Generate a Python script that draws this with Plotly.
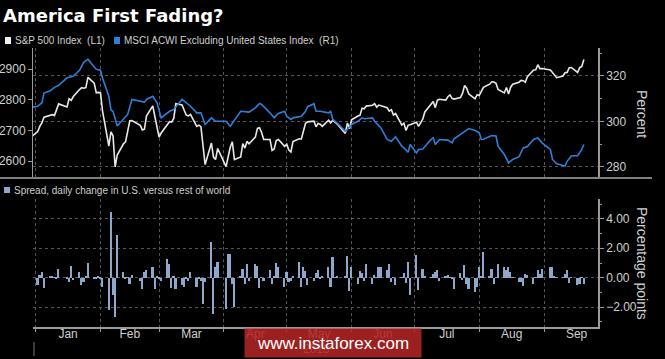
import pandas as pd
import plotly.graph_objects as go

W, H = 665, 359
def px(x): return x / W
def py(y): return 1 - y / H

# ---------------- data ----------------
holidays = ["2018-01-15", "2018-02-19", "2018-03-30", "2018-05-28", "2018-07-04", "2018-09-03"]
trade_dates = ["2017-12-29"] + [d.strftime("%Y-%m-%d") for d in pd.bdate_range("2018-01-02", "2018-09-20")
                                 if d.strftime("%Y-%m-%d") not in holidays]

spx = [2673.61,
       # Jan
       2695.81, 2713.06, 2723.99, 2743.15, 2747.71, 2751.29, 2748.23, 2767.56, 2786.24, 2776.42, 2802.56,
       2798.03, 2810.30, 2832.97, 2839.13, 2837.54, 2839.25, 2872.87, 2853.53, 2822.43, 2823.81,
       # Feb
       2821.98, 2762.13, 2648.94, 2695.14, 2681.66, 2581.00, 2619.55, 2656.00, 2662.94, 2698.63, 2731.20,
       2732.22, 2716.26, 2701.33, 2703.96, 2747.30, 2779.60, 2744.28, 2713.83,
       # Mar
       2677.67, 2691.25, 2720.94, 2728.12, 2726.80, 2738.97, 2786.57, 2783.02, 2765.31, 2749.48, 2747.33,
       2752.01, 2712.92, 2716.94, 2711.93, 2643.69, 2588.26, 2658.55, 2612.62, 2605.00, 2640.87,
       # Apr
       2581.88, 2614.45, 2644.69, 2662.84, 2604.47, 2613.16, 2656.87, 2642.19, 2663.99, 2656.30, 2677.84,
       2706.39, 2708.64, 2693.13, 2670.14, 2670.29, 2634.56, 2639.40, 2666.94, 2669.91, 2648.05,
       # May
       2654.80, 2635.67, 2629.73, 2663.42, 2672.63, 2671.92, 2697.79, 2723.07, 2727.72, 2730.13, 2711.45,
       2722.46, 2720.13, 2712.97, 2733.01, 2724.44, 2733.29, 2727.76, 2721.33, 2689.86, 2724.01, 2705.27,
       # Jun
       2734.62, 2746.87, 2748.80, 2772.35, 2770.37, 2779.03, 2782.00, 2786.85, 2775.63, 2782.49, 2779.66,
       2773.75, 2762.59, 2767.32, 2749.76, 2754.88, 2717.07, 2723.06, 2699.63, 2716.31, 2718.37,
       # Jul
       2726.71, 2713.22, 2736.61, 2759.82, 2784.17, 2793.84, 2774.02, 2798.29, 2801.31, 2798.43, 2809.55,
       2815.62, 2804.49, 2801.83, 2806.98, 2820.40, 2846.07, 2837.44, 2818.82, 2802.60, 2816.29,
       # Aug
       2813.36, 2827.22, 2840.35, 2850.40, 2858.45, 2857.70, 2853.58, 2833.28, 2821.93, 2839.96, 2818.37,
       2840.69, 2850.13, 2857.05, 2862.96, 2861.82, 2856.98, 2874.69, 2896.74, 2897.52, 2914.04, 2901.13,
       2901.52,
       # Sep
       2896.72, 2888.60, 2878.05, 2871.68, 2877.13, 2887.89, 2888.92, 2904.18, 2904.98, 2888.80, 2904.31,
       2907.95, 2930.75]

spread = [-0.9,
          # Jan
          -0.5, 0.2, 0.4, -0.7, 0.1, 0.1, 0.03, -0.1, 0.6, -0.1, -0.3, 0.8, -0.15, 0.4, -0.5, -0.3, 0.05, 1.0,
          -0.1, -0.1, 0.05,
          # Feb
          -0.1, -0.6, -2.2, 4.5, -1.2, -2.7, 2.9, 0.4, -0.1, 0.03, -0.4, 0.2, -0.2, -0.8, 0.4, 0.5, 0.7, -0.8, 0.05,
          # Mar
          -0.1, -0.2, 1.3, 0.9, -0.7, 0.1, -0.8, -0.5, -0.6, -0.1, -0.2, 0.4, -0.6, -0.1, -0.2, -1.8, -0.3, 2.4,
          -2.5, 0.7, 1.1,
          # Apr
          -2.1, 1.6, 1.6, -0.4, -2.0, 0.1, 0.6, -0.4, 0.9, -0.2, 0.9, 0.8, -0.7, 0.03, -0.2, 0.5, -0.4, 0.1, 1.0,
          0.7, -0.6,
          # May
          0.4, -0.3, -0.2, 0.05, 1.1, -0.6, 0.7, 0.45, -0.5, -0.2, 0.3, 0.5, -0.05, 0.15, 0.7, -0.6, 1.4, 0.03,
          0.1, 0.05, 1.5, -0.9,
          # Jun
          0.7, -0.45, 0.45, 0.3, -0.2, 0.95, -0.4, 0.2, 0.03, 0.7, 0.75, 0.5, 0.9, -0.3, 0.03, -0.5, 0.03, 0.3,
          -0.35, 1.1, -1.2,
          # Jul
          1.55, -0.85, 0.6, 0.15, 0.03, 0.25, 0.4, 0.5, -0.2, 0.1, 0.2, 0.03, -0.05, -0.75, 0.3, -0.15, 0.85,
          -0.4, -0.75, -0.95, -0.6,
          # Aug
          0.7, 0.1, 1.75, 0.15, 0.6, -0.4, 0.03, 0.95, 0.7, 0.55, 0.7, 0.4, 0.03, -0.3, -0.3, -0.55, 0.25, 0.2,
          -0.4, 0.03, 0.55, 0.25, 0.6,
          # Sep
          0.7, 0.7, 0.1, 0.03, 0.03, 0.25, 0.55, -0.35, 0.03, -0.5, -0.45, 0.03, -0.45]

msci_dates = ["2017-12-29", "2018-01-02", "2018-01-04", "2018-01-05", "2018-01-08", "2018-01-10", "2018-01-12",
              "2018-01-16", "2018-01-19", "2018-01-22", "2018-01-24", "2018-01-26", "2018-01-30", "2018-02-01",
              "2018-02-02", "2018-02-05", "2018-02-06", "2018-02-07", "2018-02-09", "2018-02-12", "2018-02-14",
              "2018-02-16", "2018-02-20", "2018-02-22", "2018-02-23", "2018-02-26", "2018-02-28", "2018-03-01",
              "2018-03-02", "2018-03-06", "2018-03-08", "2018-03-12", "2018-03-14", "2018-03-16", "2018-03-19",
              "2018-03-21", "2018-03-23", "2018-03-26", "2018-03-28", "2018-04-02", "2018-04-04", "2018-04-06",
              "2018-04-09", "2018-04-13", "2018-04-16", "2018-04-18", "2018-04-19", "2018-04-23", "2018-04-25",
              "2018-04-27", "2018-04-30", "2018-05-01", "2018-05-03", "2018-05-04", "2018-05-08", "2018-05-10",
              "2018-05-11", "2018-05-14", "2018-05-15", "2018-05-17", "2018-05-21", "2018-05-22", "2018-05-23",
              "2018-05-25", "2018-05-29", "2018-05-30", "2018-06-01", "2018-06-04", "2018-06-06", "2018-06-07",
              "2018-06-11", "2018-06-12", "2018-06-15", "2018-06-18", "2018-06-20", "2018-06-22", "2018-06-25",
              "2018-06-26", "2018-06-28", "2018-06-29", "2018-07-02", "2018-07-03", "2018-07-05", "2018-07-09",
              "2018-07-10", "2018-07-11", "2018-07-13", "2018-07-17", "2018-07-19", "2018-07-20", "2018-07-23",
              "2018-07-25", "2018-07-27", "2018-07-30", "2018-08-01", "2018-08-02", "2018-08-03", "2018-08-07",
              "2018-08-09", "2018-08-10", "2018-08-13", "2018-08-15", "2018-08-17", "2018-08-20", "2018-08-22",
              "2018-08-24", "2018-08-27", "2018-08-29", "2018-08-31", "2018-09-04", "2018-09-05", "2018-09-07",
              "2018-09-11", "2018-09-12", "2018-09-14", "2018-09-17", "2018-09-19", "2018-09-20"]
msci = [306.0, 306.7, 308.2, 312.5, 313.5, 315.0, 315.8,
        319.2, 319.9, 322.5, 326.0, 327.3, 322.9, 322.5,
        319.0, 311.0, 305.0, 304.5, 298.0, 300.9, 303.1,
        309.7, 308.9, 308.5, 309.7, 311.1, 308.2, 305.0,
        301.6, 304.5, 305.3, 309.7, 308.2, 306.7, 303.8,
        303.8, 298.7, 301.6, 300.1, 300.1, 297.9, 300.4,
        304.5, 304.1, 306.0, 307.9, 307.5, 303.8, 301.6,
        303.5, 304.5, 302.3, 300.9, 301.6, 302.3, 304.5,
        306.5, 307.8, 304.5, 304.5, 303.8, 304.5, 300.9,
        299.4, 295.7, 296.5, 298.7, 300.1, 301.6, 301.2,
        301.6, 300.1, 297.2, 292.1, 291.3, 293.3, 289.1,
        288.4, 286.5, 289.9, 286.2, 287.7, 287.9, 292.1,
        292.8, 289.9, 292.1, 291.8, 290.6, 292.4, 294.3,
        295.7, 296.9, 296.0, 295.0, 292.1, 292.2, 293.8,
        293.6, 289.1, 285.5, 281.8, 283.3, 284.5, 288.4,
        289.0, 292.1, 292.8, 290.6, 287.7, 283.3, 281.4,
        280.4, 282.5, 284.8, 285.0, 287.7, 289.9]

left_ticks = [2600, 2700, 2800, 2900]
right_ticks = [280, 300, 320]
spread_ticks = [-2, 0, 2, 4]

n = min(len(trade_dates), len(spx), len(spread))
trade_dates, spx, spread = trade_dates[:n], spx[:n], spread[:n]

# ---------------- figure ----------------
GRID = "#555555"
AX = "#9a9a9a"
TXT = "#cfcfcf"
FONT = "Liberation Sans, Arial, sans-serif"
XR = ["2017-12-30 18:00", "2018-09-26 18:00"]

fig = go.Figure()
fig.add_trace(go.Scatter(x=trade_dates, y=spx, mode="lines", xaxis="x", yaxis="y",
                         line=dict(color="#e8e8e8", width=1.6), name="S&P 500 Index (L1)"))
fig.add_trace(go.Scatter(x=msci_dates, y=msci, mode="lines", xaxis="x", yaxis="y2",
                         line=dict(color="#2f7fd8", width=1.6), name="MSCI ACWI"))
fig.add_trace(go.Bar(x=trade_dates, y=spread, xaxis="x2", yaxis="y3",
                     marker=dict(color="#8ea8cc", line=dict(width=0)), width=0.8 * 86400000, name="Spread"))

xcommon = dict(domain=[px(33), px(598)], type="date", range=XR, dtick="M1", tick0="2018-01-01",
               showgrid=True, gridcolor=GRID, griddash="dot", gridwidth=1, zeroline=False)

fig.update_layout(
    width=W, height=H, margin=dict(l=0, r=0, t=0, b=0),
    paper_bgcolor="black", plot_bgcolor="black", showlegend=False, bargap=0,
    font=dict(family=FONT, color=TXT, size=12),
    xaxis=dict(**xcommon, anchor="y", showticklabels=False, ticks=""),
    xaxis2=dict(**xcommon, anchor="y3", matches="x", showticklabels=True, tickformat="%b",
                ticklabelmode="period", ticks="outside", ticklen=3, tickcolor=AX,
                ticklabelstandoff=-8,
                showline=True, linecolor=AX, linewidth=1.5,
                tickfont=dict(size=12, color=TXT, family=FONT)),
    yaxis=dict(domain=[py(178), py(48)], range=[2544.6, 2968.5], tickvals=left_ticks,
               ticks="outside", ticklen=4, tickcolor=AX, showline=True, linecolor=AX, linewidth=1,
               showgrid=False, zeroline=False, anchor="x", side="left",
               tickfont=dict(size=12, color=TXT, family=FONT)),
    yaxis2=dict(overlaying="y", side="right", anchor="x", range=[275.16, 332.3], tickvals=right_ticks,
                ticks="outside", ticklen=4, tickcolor=AX, showline=True, linecolor=AX, linewidth=1.5,
                showgrid=True, gridcolor=GRID, griddash="dot", zeroline=False,
                minor=dict(tickvals=[290, 310, 330], ticks="outside", ticklen=2, tickcolor=AX, showgrid=False),
                tickfont=dict(size=12, color=TXT, family=FONT)),
    yaxis3=dict(domain=[py(327), py(199)], anchor="x2", side="right", range=[-3.35, 5.35],
                tickvals=spread_ticks, tickformat=".2f", ticks="outside", ticklen=4, tickcolor=AX,
                showline=True, linecolor=AX, linewidth=1.5, showgrid=True, gridcolor=GRID, griddash="dot",
                zeroline=False,
                minor=dict(tickvals=[-3, -1, 1, 3, 5], ticks="outside", ticklen=2, tickcolor=AX, showgrid=False),
                tickfont=dict(size=12, color=TXT, family=FONT)),
)

shapes = [
    dict(type="line", xref="paper", yref="paper", x0=px(0), x1=px(652), y0=py(178), y1=py(178),
         line=dict(color="#808080", width=2)),
    dict(type="rect", xref="paper", yref="paper", x0=px(5), x1=px(11), y0=py(44), y1=py(37),
         fillcolor="#f0f0f0", line=dict(width=0)),
    dict(type="rect", xref="paper", yref="paper", x0=px(114), x1=px(120), y0=py(44), y1=py(37),
         fillcolor="#2f7fd8", line=dict(width=0)),
    dict(type="rect", xref="paper", yref="paper", x0=px(4), x1=px(10), y0=py(193), y1=py(187),
         fillcolor="#8ea8cc", line=dict(width=0)),
    dict(type="line", xref="paper", yref="paper", x0=px(34), x1=px(34), y0=py(342), y1=py(356),
         line=dict(color="#777777", width=1)),
]
fig.update_layout(shapes=shapes)

def ann(text, x, y, size=10, color=TXT, xanchor="left", family=FONT, angle=0, **kw):
    return dict(text=text, x=px(x), y=py(y), xref="paper", yref="paper", showarrow=False,
                xanchor=xanchor, yanchor="middle", textangle=angle,
                font=dict(size=size, color=color, family=family), **kw)

annotations = [
    ann("<b>America First Fading?</b>", 1, 16, size=18, color="white", family="DejaVu Sans, sans-serif"),
    ann("S&amp;P 500 Index&nbsp; (L1)", 13, 40.5, size=10),
    ann("MSCI ACWI Excluding United States Index&nbsp; (R1)", 122, 40.5, size=10),
    ann("Spread, daily change in U.S. versus rest of world", 12, 190, size=10),
    ann("Percent", 642, 114, size=14, xanchor="center", angle=90),
    ann("Percentage points", 642, 263, size=14, xanchor="center", angle=90),
    ann("2018", 316, 349, size=12, xanchor="center"),
    ann("www.instaforex.com", 333, 343, size=17, color="white", xanchor="center",
        bgcolor="rgba(178,36,36,0.88)", width=176, height=28, borderpad=0),
]
fig.update_layout(annotations=annotations)

fig.write_html("out.html", config={"displayModeBar": False},
               post_script="document.body.style.margin='0';document.body.style.padding='0';"
                           "document.body.style.background='black';")
